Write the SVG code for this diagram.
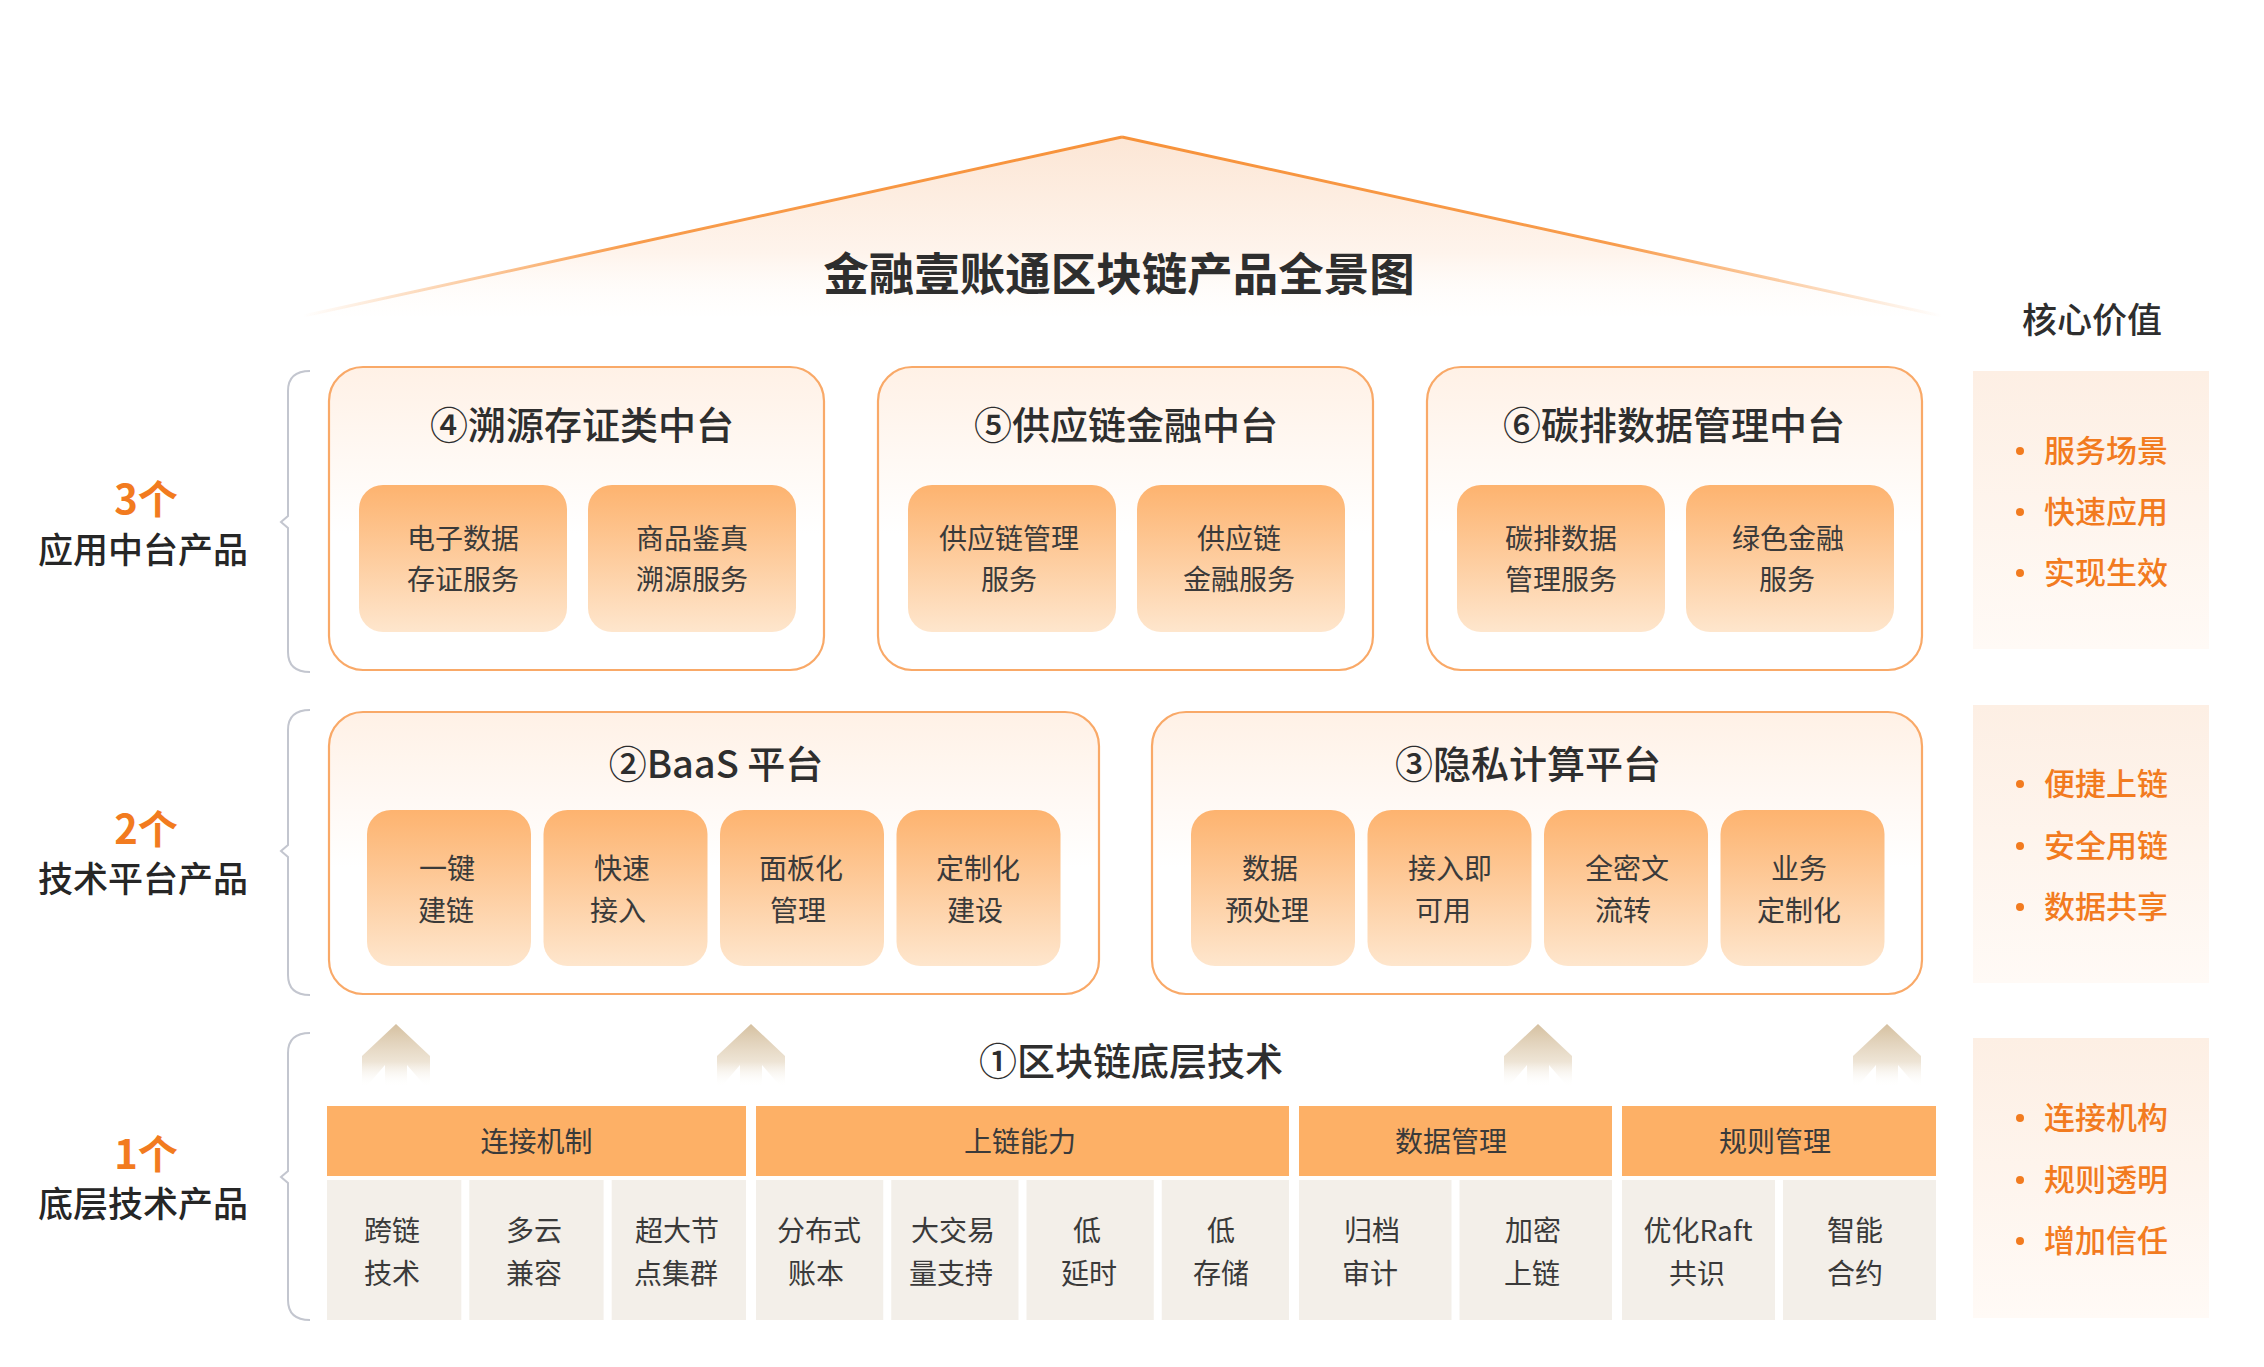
<svg xmlns="http://www.w3.org/2000/svg" width="2264" height="1367" viewBox="0 0 2264 1367">
<defs>
<linearGradient id="roofFill" gradientUnits="userSpaceOnUse" x1="0" y1="137" x2="0" y2="330">
<stop offset="0" stop-color="#fce6d5"/>
<stop offset="0.6" stop-color="#fef4ec"/>
<stop offset="1" stop-color="#ffffff" stop-opacity="0"/>
</linearGradient>
<linearGradient id="roofL" gradientUnits="userSpaceOnUse" x1="303" y1="0" x2="1122" y2="0">
<stop offset="0" stop-color="#f7923a" stop-opacity="0"/>
<stop offset="0.4" stop-color="#f7923a" stop-opacity="0.9"/>
<stop offset="1" stop-color="#f7923a"/>
</linearGradient>
<linearGradient id="roofR" gradientUnits="userSpaceOnUse" x1="1942" y1="0" x2="1122" y2="0">
<stop offset="0" stop-color="#f7923a" stop-opacity="0"/>
<stop offset="0.4" stop-color="#f7923a" stop-opacity="0.9"/>
<stop offset="1" stop-color="#f7923a"/>
</linearGradient>
<linearGradient id="boxFill" x1="0" y1="0" x2="0" y2="1">
<stop offset="0" stop-color="#fff1e6"/>
<stop offset="0.55" stop-color="#ffffff"/>
<stop offset="1" stop-color="#ffffff"/>
</linearGradient>
<linearGradient id="subFill" x1="0" y1="0" x2="0" y2="1">
<stop offset="0" stop-color="#fdb36f"/>
<stop offset="1" stop-color="#fee6cd"/>
</linearGradient>
<linearGradient id="panelFill" x1="0" y1="0" x2="0" y2="1">
<stop offset="0" stop-color="#fdefe4"/>
<stop offset="1" stop-color="#fffaf6"/>
</linearGradient>
<linearGradient id="arrowFill" x1="0" y1="0" x2="0" y2="1">
<stop offset="0" stop-color="#d5c0a0"/>
<stop offset="0.6" stop-color="#e8dbc7" stop-opacity="0.75"/>
<stop offset="1" stop-color="#ffffff" stop-opacity="0"/>
</linearGradient>
<path id="arrowShape" d="M0,0 L34,32 L34,63 L30,63 L11,41 L11,63 L-11,63 L-11,41 L-30,63 L-34,63 L-34,32 Z"/>
</defs>
<style>
text{font-family:"Noto Sans CJK SC","Noto Sans",sans-serif;text-anchor:middle;dominant-baseline:central;}
.title{font-size:45.5px;font-weight:700;fill:#2e2e2e;}
.hdr{font-size:38px;font-weight:500;fill:#2e2e2e;}
.sub{font-size:28px;font-weight:400;fill:#3a3a3a;}
.cnt{font-size:40px;font-weight:700;fill:#f27b1f;}
.lbl{font-size:35px;font-weight:500;fill:#262626;}
.val{font-size:31px;font-weight:500;fill:#f27b1f;text-anchor:start;}
.core{font-size:35px;font-weight:500;fill:#2e2e2e;}
.box{fill:url(#boxFill);stroke:#f9a968;stroke-width:2.2;}
.sb{fill:url(#subFill);}
.panel{fill:url(#panelFill);}
.bar{fill:#fdb066;}
.cell{fill:#f3efe9;}
.brace{fill:none;stroke:#c3c6cf;stroke-width:2;}
.dot{fill:#f27b1f;}
.arrow{fill:url(#arrowFill);}
</style>
<rect width="2264" height="1367" fill="#ffffff"/>

<g id="roof">
<polygon points="1122,137 303,316 1942,316" fill="url(#roofFill)"/>
<line x1="303" y1="316" x2="1122" y2="137" stroke="url(#roofL)" stroke-width="3"/>
<line x1="1122" y1="137" x2="1942" y2="316" stroke="url(#roofR)" stroke-width="3"/>
<text class="title" x="1119" y="271">金融壹账通区块链产品全景图</text>
</g>

<g id="core-title"><text class="core" x="2092" y="317">核心价值</text></g>

<g id="connectors">
<path class="brace" d="M310 371 Q288 371 288 391 L288 516 L281 522 L288 528 L288 652 Q288 672 310 672"/>
<path class="brace" d="M310 710 Q288 710 288 730 L288 845 L281 851 L288 857 L288 975 Q288 995 310 995"/>
<path class="brace" d="M310 1033 Q288 1033 288 1053 L288 1171 L281 1177 L288 1183 L288 1300 Q288 1320 310 1320"/>
<use href="#arrowShape" class="arrow" transform="translate(396,1024)"/>
<use href="#arrowShape" class="arrow" transform="translate(751,1024)"/>
<use href="#arrowShape" class="arrow" transform="translate(1538,1024)"/>
<use href="#arrowShape" class="arrow" transform="translate(1887,1024)"/>
</g>

<g id="label-row1">
<text class="cnt" x="146" y="497">3个</text>
<text class="lbl" x="143" y="547">应用中台产品</text>
</g>
<g id="label-row2">
<text class="cnt" x="146" y="827">2个</text>
<text class="lbl" x="143" y="876">技术平台产品</text>
</g>
<g id="label-row3">
<text class="cnt" x="146" y="1152">1个</text>
<text class="lbl" x="143" y="1201">底层技术产品</text>
</g>

<g id="node-4">
<rect class="box" x="329" y="367" width="495" height="303" rx="34"/>
<text class="hdr" x="582" y="422">④溯源存证类中台</text>
<rect class="sb" x="359" y="485" width="208" height="147" rx="24"/>
<text class="sub" x="463" y="537">电子数据</text>
<text class="sub" x="463" y="578">存证服务</text>
<rect class="sb" x="588" y="485" width="208" height="147" rx="24"/>
<text class="sub" x="692" y="537">商品鉴真</text>
<text class="sub" x="692" y="578">溯源服务</text>
</g>

<g id="node-5">
<rect class="box" x="878" y="367" width="495" height="303" rx="34"/>
<text class="hdr" x="1126" y="422">⑤供应链金融中台</text>
<rect class="sb" x="908" y="485" width="208" height="147" rx="24"/>
<text class="sub" x="1009" y="537">供应链管理</text>
<text class="sub" x="1009" y="578">服务</text>
<rect class="sb" x="1137" y="485" width="208" height="147" rx="24"/>
<text class="sub" x="1239" y="537">供应链</text>
<text class="sub" x="1239" y="578">金融服务</text>
</g>

<g id="node-6">
<rect class="box" x="1427" y="367" width="495" height="303" rx="34"/>
<text class="hdr" x="1674" y="422">⑥碳排数据管理中台</text>
<rect class="sb" x="1457" y="485" width="208" height="147" rx="24"/>
<text class="sub" x="1561" y="537">碳排数据</text>
<text class="sub" x="1561" y="578">管理服务</text>
<rect class="sb" x="1686" y="485" width="208" height="147" rx="24"/>
<text class="sub" x="1788" y="537">绿色金融</text>
<text class="sub" x="1787" y="578">服务</text>
</g>

<g id="node-2">
<rect class="box" x="329" y="712" width="770" height="282" rx="34"/>
<text class="hdr" x="716" y="761">②BaaS 平台</text>
<rect class="sb" x="367" y="810" width="164" height="156" rx="24"/>
<text class="sub" x="447" y="867">一键</text>
<text class="sub" x="446" y="909">建链</text>
<rect class="sb" x="543.5" y="810" width="164" height="156" rx="24"/>
<text class="sub" x="622" y="867">快速</text>
<text class="sub" x="618" y="909">接入</text>
<rect class="sb" x="720" y="810" width="164" height="156" rx="24"/>
<text class="sub" x="801" y="867">面板化</text>
<text class="sub" x="798" y="909">管理</text>
<rect class="sb" x="896.5" y="810" width="164" height="156" rx="24"/>
<text class="sub" x="978" y="867">定制化</text>
<text class="sub" x="975" y="909">建设</text>
</g>

<g id="node-3">
<rect class="box" x="1152" y="712" width="770" height="282" rx="34"/>
<text class="hdr" x="1528" y="761">③隐私计算平台</text>
<rect class="sb" x="1191" y="810" width="164" height="156" rx="24"/>
<text class="sub" x="1270" y="867">数据</text>
<text class="sub" x="1267" y="909">预处理</text>
<rect class="sb" x="1367.5" y="810" width="164" height="156" rx="24"/>
<text class="sub" x="1450" y="867">接入即</text>
<text class="sub" x="1443" y="909">可用</text>
<rect class="sb" x="1544" y="810" width="164" height="156" rx="24"/>
<text class="sub" x="1627" y="867">全密文</text>
<text class="sub" x="1623" y="909">流转</text>
<rect class="sb" x="1720.5" y="810" width="164" height="156" rx="24"/>
<text class="sub" x="1799" y="867">业务</text>
<text class="sub" x="1799" y="909">定制化</text>
</g>

<g id="node-1">
<text class="hdr" x="1131" y="1058">①区块链底层技术</text>
</g>

<g id="group-connect">
<rect class="bar" x="327" y="1106" width="419" height="70"/>
<text class="sub" x="536.5" y="1140">连接机制</text>
<rect class="cell" x="327" y="1180" width="134.3" height="140"/>
<text class="sub" x="392" y="1229">跨链</text>
<text class="sub" x="392" y="1272">技术</text>
<rect class="cell" x="469.3" y="1180" width="134.3" height="140"/>
<text class="sub" x="534" y="1229">多云</text>
<text class="sub" x="534" y="1272">兼容</text>
<rect class="cell" x="611.7" y="1180" width="134.3" height="140"/>
<text class="sub" x="677" y="1229">超大节</text>
<text class="sub" x="676" y="1272">点集群</text>
</g>

<g id="group-chain">
<rect class="bar" x="756" y="1106" width="533" height="70"/>
<text class="sub" x="1020" y="1140">上链能力</text>
<rect class="cell" x="756" y="1180" width="127.25" height="140"/>
<text class="sub" x="819" y="1229">分布式</text>
<text class="sub" x="816" y="1272">账本</text>
<rect class="cell" x="891.25" y="1180" width="127.25" height="140"/>
<text class="sub" x="953" y="1229">大交易</text>
<text class="sub" x="951" y="1272">量支持</text>
<rect class="cell" x="1026.5" y="1180" width="127.25" height="140"/>
<text class="sub" x="1087" y="1229">低</text>
<text class="sub" x="1089" y="1272">延时</text>
<rect class="cell" x="1161.75" y="1180" width="127.25" height="140"/>
<text class="sub" x="1221" y="1229">低</text>
<text class="sub" x="1221" y="1272">存储</text>
</g>

<g id="group-data">
<rect class="bar" x="1299" y="1106" width="313" height="70"/>
<text class="sub" x="1451" y="1140">数据管理</text>
<rect class="cell" x="1299" y="1180" width="152.5" height="140"/>
<text class="sub" x="1372" y="1229">归档</text>
<text class="sub" x="1370" y="1272">审计</text>
<rect class="cell" x="1459.5" y="1180" width="152.5" height="140"/>
<text class="sub" x="1533" y="1229">加密</text>
<text class="sub" x="1532" y="1272">上链</text>
</g>

<g id="group-rule">
<rect class="bar" x="1622" y="1106" width="314" height="70"/>
<text class="sub" x="1775" y="1140">规则管理</text>
<rect class="cell" x="1622" y="1180" width="153" height="140"/>
<text class="sub" x="1698" y="1229">优化Raft</text>
<text class="sub" x="1697" y="1272">共识</text>
<rect class="cell" x="1783" y="1180" width="153" height="140"/>
<text class="sub" x="1855" y="1229">智能</text>
<text class="sub" x="1855" y="1272">合约</text>
</g>

<g id="value-1">
<rect class="panel" x="1973" y="371" width="236" height="278"/>
<circle class="dot" cx="2020" cy="451" r="4"/><text class="val" x="2044" y="448">服务场景</text>
<circle class="dot" cx="2020" cy="512" r="4"/><text class="val" x="2044" y="509">快速应用</text>
<circle class="dot" cx="2020" cy="573" r="4"/><text class="val" x="2044" y="570">实现生效</text>
</g>
<g id="value-2">
<rect class="panel" x="1973" y="705" width="236" height="278"/>
<circle class="dot" cx="2020" cy="784" r="4"/><text class="val" x="2044" y="781">便捷上链</text>
<circle class="dot" cx="2020" cy="846" r="4"/><text class="val" x="2044" y="843">安全用链</text>
<circle class="dot" cx="2020" cy="907" r="4"/><text class="val" x="2044" y="904">数据共享</text>
</g>
<g id="value-3">
<rect class="panel" x="1973" y="1038" width="236" height="280"/>
<circle class="dot" cx="2020" cy="1118" r="4"/><text class="val" x="2044" y="1115">连接机构</text>
<circle class="dot" cx="2020" cy="1180" r="4"/><text class="val" x="2044" y="1177">规则透明</text>
<circle class="dot" cx="2020" cy="1241" r="4"/><text class="val" x="2044" y="1238">增加信任</text>
</g>
</svg>
